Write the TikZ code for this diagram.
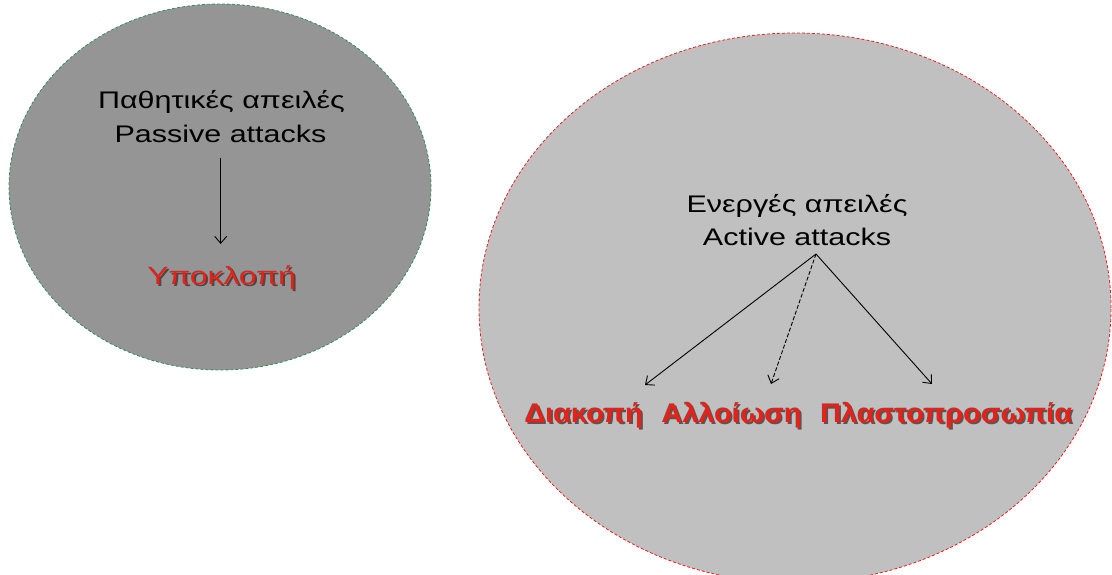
\documentclass[tikz,border=0pt]{standalone}
\usepackage{fontspec}
\usetikzlibrary{arrows.meta,shapes.geometric}
\newfontfamily\labelfont[FakeStretch=1.27]{Liberation Sans}
\newfontfamily\threatfont[FakeStretch=1.07]{Liberation Sans}
\definecolor{passivefill}{RGB}{149,149,149}
\definecolor{activefill}{RGB}{192,192,192}
\definecolor{passiveedge}{RGB}{50,140,95}
\definecolor{activeedge}{RGB}{235,30,30}
\definecolor{threat}{RGB}{232,32,24}
% a word with a dark copy set slightly below and to the right of it
\newcommand{\castshadow}[2]{\makebox[0pt][l]{\hspace{2pt}\raisebox{-2.3pt}{\textcolor{#1}{#2}}}#2}

\begin{document}
\begin{tikzpicture}[x=1pt,y=-1pt,
  zone/.style={ellipse, inner sep=0pt, dash pattern=on 3pt off 2pt, line width=0.8pt},
  title/.style={anchor=base, inner sep=0pt, font=\labelfont\fontsize{24}{24}\selectfont},
  threatlbl/.style={anchor=base, inner sep=0pt, text=threat},
  link/.style={line width=0.9pt, -{Straight Barb[length=7pt,width=12pt]}}]
\useasboundingbox (0,0) rectangle (1112,575);

% the two groups of threats
\node[zone, fill=passivefill, draw=passiveedge, minimum width=422pt, minimum height=366pt] (passive) at (220,187) {};
\node[zone, fill=activefill, draw=activeedge, minimum width=632pt, minimum height=550pt] (active) at (795,308) {};

% passive attacks
\node[title] (ptitleA) at (221.5,109) {Παθητικές απειλές};
\node[title] (ptitleB) at (220.5,143) {Passive attacks};
\node[threatlbl, font=\labelfont\fontsize{25}{25}\selectfont] (ypok) at (221.5,284.5)
  {\castshadow{black!50!passivefill}{Υποκλοπή}};
\coordinate (pfork) at (220.7,158);
\coordinate (pend) at (220.7,244);
\draw[link] (pfork) -- (pend);

% active attacks
\node[title] (atitleA) at (797,212.3) {Ενεργές απειλές};
\node[title] (atitleB) at (797,245) {Active attacks};
\tikzset{redword/.style={font=\threatfont\bfseries\fontsize{27}{27}\selectfont}}
\node[threatlbl, redword] (diak) at (583.5,422) {\castshadow{black!55!activefill}{Διακοπή}};
\node[threatlbl, redword] (allo) at (731.5,422) {\castshadow{black!55!activefill}{Αλλοίωση}};
\node[threatlbl, redword] (plas) at (946,422) {\castshadow{black!55!activefill}{Πλαστοπροσωπία}};
\coordinate (afork) at (816,254);
\coordinate (diakTip) at (645,385);
\coordinate (alloTip) at (771,384);
\coordinate (plasTip) at (932,384);
\draw[link] (afork) -- (diakTip);
\draw[link, dash pattern=on 4pt off 2pt] (afork) -- (alloTip);
\draw[link] (afork) -- (plasTip);
\end{tikzpicture}
\end{document}
